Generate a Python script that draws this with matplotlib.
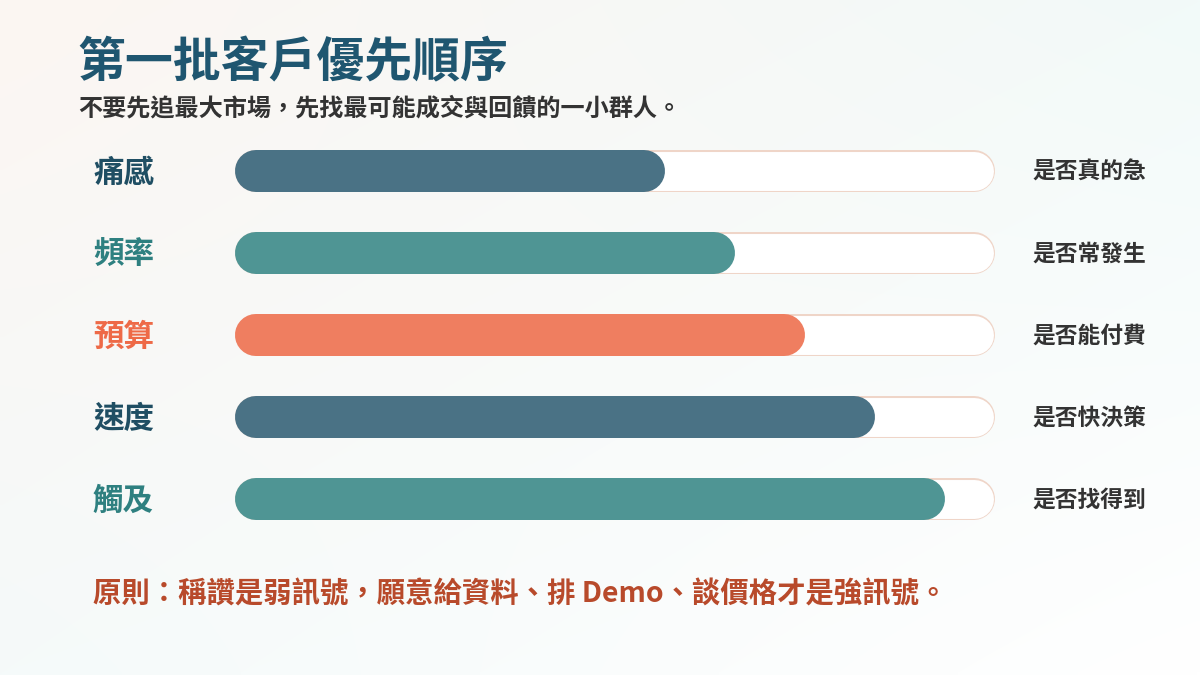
import numpy as np
import matplotlib
matplotlib.use("Agg")
import matplotlib.pyplot as plt
from matplotlib.colors import to_rgb

plt.rcParams['font.family'] = ['Noto Sans CJK TC', 'DejaVu Sans']

title = "第一批客戶優先順序"
subtitle = "不要先追最大市場，先找最可能成交與回饋的一小群人。"
footer = "原則：稱讚是弱訊號，願意給資料、排 Demo、談價格才是強訊號。"
categories = ["痛感", "頻率", "預算", "速度", "觸及"]
notes = ["是否真的急", "是否常發生", "是否能付費", "是否快決策", "是否找得到"]
values = [56.6, 65.8, 75.0, 84.2, 93.4]
bar_colors = ["#4a7285", "#4f9594", "#ef7e60", "#4a7285", "#4f9594"]
label_colors = ["#1f4e63", "#2e8080", "#ee6a47", "#1f4e63", "#2e8080"]

W, H = 1200, 675
fig = plt.figure(figsize=(12, 6.75), dpi=100)

# background gradient (bilinear between corner colours)
bg = fig.add_axes([0, 0, 1, 1])
tl, tr = np.array(to_rgb("#fcf6f2")), np.array(to_rgb("#f2faf9"))
bl, br = np.array(to_rgb("#f5fafa")), np.array(to_rgb("#ffffff"))
u = np.linspace(0, 1, 240)[None, :, None]
v = np.linspace(0, 1, 135)[:, None, None]
img = (1 - v) * ((1 - u) * tl + u * tr) + v * ((1 - u) * bl + u * br)
bg.imshow(img, extent=[0, W, H, 0], aspect="auto", interpolation="bilinear")
bg.set_xlim(0, W)
bg.set_ylim(H, 0)
bg.axis("off")

bg.text(77, 63, title, fontsize=34.5, fontweight="bold", color="#1f5670", va="center", ha="left")
bg.text(78, 108, subtitle, fontsize=17.4, fontweight="bold", color="#333333", va="center", ha="left")
bg.text(93, 594, footer, fontsize=20.4, fontweight="bold", color="#b84a2b", va="center", ha="left")

# bar axes: x 0..100 spans track pixels 235..995
x0, x1 = 235, 995
ax = fig.add_axes([x0 / W, 0, (x1 - x0) / W, 1])
ax.set_xlim(0, 100)
ax.set_ylim(H, 0)
ax.axis("off")

bar_h = 42  # px
r = bar_h / 2 / (x1 - x0) * 100  # cap radius in data units
lw = bar_h * 72 / 100
y_centers = [171 + 82 * i for i in range(len(categories))]

for y, val, col in zip(y_centers, values, bar_colors):
    ax.plot([r, 100 - r], [y, y], color="#efd5c8", lw=lw, solid_capstyle="round")
    ax.plot([r, 100 - r], [y, y], color="white", lw=lw - 2.2, solid_capstyle="round")
    ax.plot([r, val - r], [y, y], color=col, lw=lw, solid_capstyle="round")

for y, cat, lc, note in zip(y_centers, categories, label_colors, notes):
    bg.text(93, y + 2, cat, fontsize=22, fontweight="bold", color=lc, va="center", ha="left")
    bg.text(1032, y + 1, note, fontsize=16.4, fontweight="bold", color="#333333", va="center", ha="left")

fig.savefig("out.png", dpi=100)
